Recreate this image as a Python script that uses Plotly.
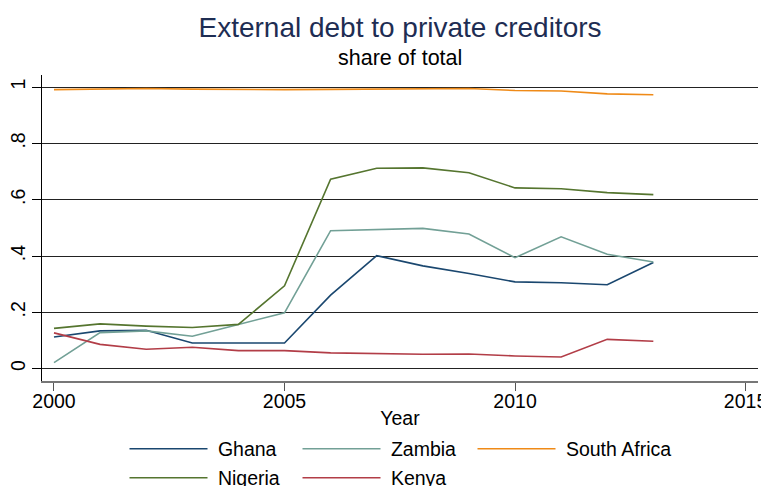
import plotly.graph_objects as go

years = list(range(2000, 2014))

ghana = [0.112, 0.134, 0.136, 0.091, 0.091, 0.091, 0.261, 0.401, 0.365, 0.338, 0.308, 0.305, 0.298, 0.377]
zambia = [0.021, 0.128, 0.134, 0.115, 0.157, 0.198, 0.490, 0.493, 0.498, 0.478, 0.394, 0.468, 0.406, 0.379]
south_africa = [0.991, 0.992, 0.995, 0.993, 0.991, 0.991, 0.992, 0.993, 0.994, 0.995, 0.988, 0.986, 0.976, 0.973]
nigeria = [0.143, 0.159, 0.151, 0.146, 0.157, 0.294, 0.673, 0.712, 0.713, 0.696, 0.642, 0.639, 0.625, 0.618]
kenya = [0.127, 0.086, 0.069, 0.076, 0.064, 0.064, 0.056, 0.054, 0.051, 0.052, 0.045, 0.041, 0.104, 0.097]

y_tickvals = [0, 0.2, 0.4, 0.6, 0.8, 1]
y_ticktext = ["0", ".2", ".4", ".6", ".8", "1"]
x_tickvals = [2000, 2005, 2010, 2015]
x_ticktext = ["2000", "2005", "2010", "2015"]

FONT = "Liberation Sans, Arial, Helvetica, sans-serif"
W, H = 761, 478  # page body has an 8px margin

series = [
    ("Ghana", ghana, "#1a476f", "legend"),
    ("Zambia", zambia, "#72a096", "legend"),
    ("South Africa", south_africa, "#ef8a17", "legend3"),
    ("Nigeria", nigeria, "#55752f", "legend2"),
    ("Kenya", kenya, "#b23d47", "legend2"),
]

fig = go.Figure()
for name, vals, color, leg in series:
    fig.add_trace(go.Scatter(x=years, y=vals, name="\u00a0" + name, mode="lines",
                             legend=leg, line=dict(color=color, width=1.6)))

legend_common = dict(orientation="h", xanchor="left", xref="container",
                     yanchor="top", yref="container",
                     entrywidth=80, entrywidthmode="pixels", itemwidth=78,
                     font=dict(size=19.5, family=FONT), traceorder="normal",
                     bgcolor="rgba(0,0,0,0)")

fig.update_layout(
    width=W, height=H,
    paper_bgcolor="white", plot_bgcolor="white",
    margin=dict(l=34, r=11, t=67, b=105, autoexpand=False),
    font=dict(family=FONT, color="black", size=19),
    title=dict(text="External debt to private creditors", x=0.5, xref="paper",
               xanchor="center", y=1 - 19 / H, yanchor="middle",
               font=dict(size=28, color="#1e2d53", family=FONT)),
    showlegend=True,
    legend=dict(x=116.5 / W, y=1 - 421.5 / H, **legend_common),
    legend2=dict(x=116.5 / W, y=1 - 450.5 / H, **legend_common),
    legend3=dict(x=(116.5 + 2 * 174) / W, y=1 - 421.5 / H,
                 **{**legend_common, "entrywidth": 140}),
)

fig.add_annotation(text="share of total", xref="paper", yref="paper",
                   x=0.5, y=(373 - 50) / 306, xanchor="center", yanchor="middle",
                   showarrow=False, font=dict(size=21.5, color="black", family=FONT))

fig.update_xaxes(range=[1999.74, 2015.27], tickvals=x_tickvals, ticktext=x_ticktext,
                 ticks="outside", ticklen=8, tickcolor="#555", tickwidth=1,
                 showline=True, linecolor="#777", linewidth=1.5, showgrid=False,
                 zeroline=False, tickfont=dict(size=19.5), automargin=False,
                 ticklabelstandoff=-6,
                 title=dict(text="Year", font=dict(size=19.5), standoff=7))
fig.update_yaxes(range=[-0.044, 1.043], tickvals=y_tickvals, ticktext=y_ticktext,
                 ticks="outside", ticklen=9, tickcolor="black", tickwidth=1,
                 showline=True, linecolor="black", linewidth=1,
                 showgrid=True, gridcolor="#222", gridwidth=1, zeroline=False,
                 tickangle=-90, tickfont=dict(size=19.5), automargin=False,
                 ticklabelstandoff=-1)

fig.write_html("out.html")
